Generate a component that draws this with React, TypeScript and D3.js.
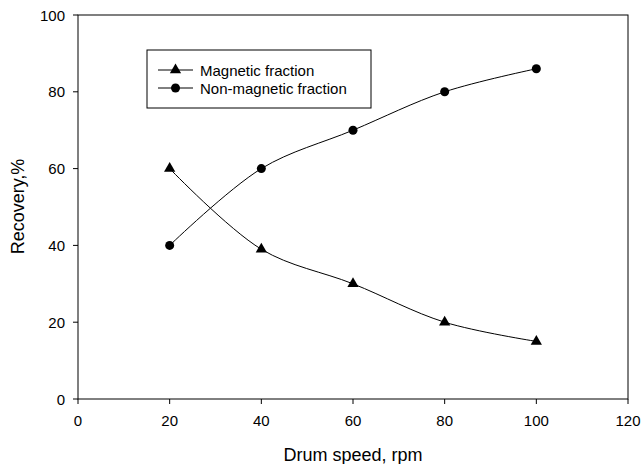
import React from 'react'
import * as d3 from 'd3'

const width = 641
const height = 464
const margin = { left: 78, top: 15, right: 13, bottom: 65 }

const speeds = [20, 40, 60, 80, 100]
const magnetic = [60, 39, 30, 20, 15]
const nonMagnetic = [40, 60, 70, 80, 86]
const xTicks = [0, 20, 40, 60, 80, 100, 120]
const yTicks = [0, 20, 40, 60, 80, 100]
const legendLabels = ['Magnetic fraction', 'Non-magnetic fraction']

const font = 'Liberation Sans, Arial, sans-serif'

function App() {
  const x = d3.scaleLinear().domain([0, 120]).range([margin.left, width - margin.right])
  const y = d3.scaleLinear().domain([0, 100]).range([height - margin.bottom, margin.top])

  const line = d3
    .line<number>()
    .x((_, i) => x(speeds[i]))
    .y((d) => y(d))
    .curve(d3.curveCatmullRom.alpha(0.5))

  const tri = d3.symbol(d3.symbolTriangle, 55)()
  const dot = d3.symbol(d3.symbolCircle, 64)()

  const x0 = x(0)
  const x1 = x(120)
  const y0 = y(0)
  const y1 = y(100)

  return (
    <svg
      width={width}
      height={height}
      style={{ position: 'absolute', left: 0, top: 0, background: 'white', fontFamily: font }}
    >
      <rect x={x0} y={y1} width={x1 - x0} height={y0 - y1} fill="none" stroke="#000" strokeWidth={1} />

      {xTicks.map((t) => (
        <g key={'x' + t}>
          <line x1={x(t)} x2={x(t)} y1={y0} y2={y0 + 5} stroke="#000" />
          <text x={x(t)} y={y0 + 27} fontSize={15} textAnchor="middle">
            {t}
          </text>
        </g>
      ))}
      {yTicks.map((t) => (
        <g key={'y' + t}>
          <line x1={x0 - 5} x2={x0} y1={y(t)} y2={y(t)} stroke="#000" />
          <text x={x0 - 13} y={y(t) + 5.5} fontSize={15} textAnchor="end">
            {t}
          </text>
        </g>
      ))}

      <text x={(x0 + x1) / 2} y={461} fontSize={18} textAnchor="middle">
        Drum speed, rpm
      </text>
      <text
        transform={`translate(24,${(y0 + y1) / 2 - 0.5}) rotate(-90)`}
        fontSize={18}
        textAnchor="middle"
      >
        Recovery,%
      </text>

      <path d={line(magnetic) ?? ''} fill="none" stroke="#000" strokeWidth={1} />
      <path d={line(nonMagnetic) ?? ''} fill="none" stroke="#000" strokeWidth={1} />
      {magnetic.map((v, i) => (
        <path key={'m' + i} d={tri ?? ''} transform={`translate(${x(speeds[i])},${y(v)})`} fill="#000" />
      ))}
      {nonMagnetic.map((v, i) => (
        <path key={'n' + i} d={dot ?? ''} transform={`translate(${x(speeds[i])},${y(v)})`} fill="#000" />
      ))}

      <rect x={147} y={50} width={224} height={58} fill="white" stroke="#000" />
      {legendLabels.map((label, i) => {
        const ly = 70 + i * 18
        return (
          <g key={label}>
            <line x1={158} x2={193} y1={ly} y2={ly} stroke="#000" />
            <path d={(i === 0 ? tri : dot) ?? ''} transform={`translate(175.5,${ly})`} fill="#000" />
            <text x={200} y={ly + 5.5} fontSize={15}>
              {label}
            </text>
          </g>
        )
      })}
    </svg>
  )
}

export default App
